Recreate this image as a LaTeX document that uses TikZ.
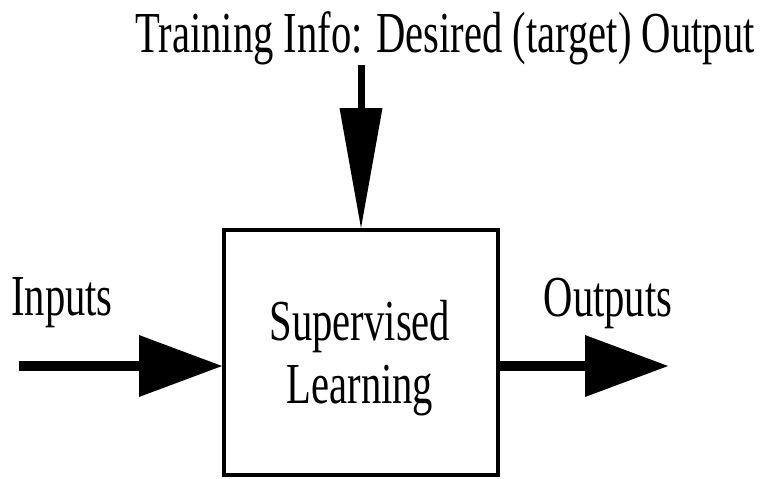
\documentclass[tikz,border=0pt]{standalone}
\usepackage{fontspec}
\setmainfont{Liberation Serif}[FakeStretch=0.7]
\usetikzlibrary{arrows.meta}

\begin{document}
\begin{tikzpicture}[x=1pt,y=-1pt,
  lbl/.style={font=\fontsize{58}{63}\selectfont, inner sep=0pt},
  block/.style={draw, line width=4pt, minimum width=274pt, minimum height=245pt, inner sep=0pt},
  flow/.style={line width=10pt,
    -{Triangle[length=83pt, width=62pt, line width=0pt 0]}},
  feed/.style={line width=7pt,
    -{Triangle[length=120pt, width=43pt, line width=0pt 0]}}
]
\useasboundingbox (0,0) rectangle (760,479);

% learning block and its caption
\node[block] (box) at (361,352.5) {};
\node[lbl, align=center] (sl) at (360,358) {Supervised\\Learning};

% labels
\node[lbl, anchor=base] (train) at (445,52) {Training Info: Desired (target) Output};
\node[lbl, anchor=base] (inputs) at (62,315) {Inputs};
\node[lbl, anchor=base] (outputs) at (608,316) {Outputs};

% free ends of the connectors
\coordinate (tstart) at (box.north |- 0,65);
\coordinate (istart) at (18.5,366);
\coordinate (oend) at (668,366);

% connectors
\draw[feed] (tstart) -- (box.north);
\draw[flow] (istart) -- (box.west |- istart);
\draw[flow] (box.east |- oend) -- (oend);
\end{tikzpicture}
\end{document}
